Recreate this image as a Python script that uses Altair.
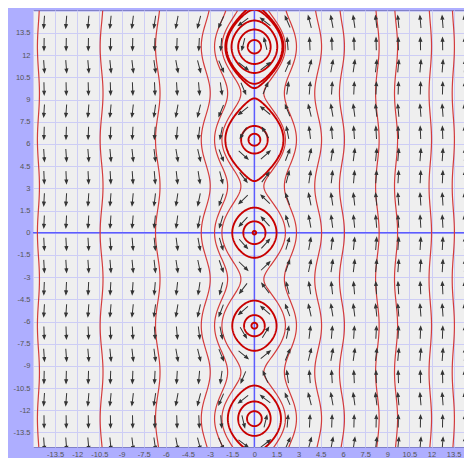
import numpy as np
import pandas as pd
import altair as alt

# ---- data ----
TICKS = [-15, -13.5, -12, -10.5, -9, -7.5, -6, -4.5, -3, -1.5, 0,
         1.5, 3, 4.5, 6, 7.5, 9, 10.5, 12, 13.5, 15]
ARROW_X = [-14.25, -12.75, -11.25, -9.75, -8.25, -6.75, -5.25, -3.75, -2.25, -0.75,
           0.75, 2.25, 3.75, 5.25, 6.75, 8.25, 9.75, 11.25, 12.75, 14.25]
ARROW_Y = list(ARROW_X)

# open trajectories: x where each crosses y = 0
OPEN_X0 = [-14.7, -10.45, -6.7, -3.6, -2.7, -2.2, 2.1, 2.85, 4.55, 6.1, 8.45, 9.7, 12.0, 13.55]
# closed orbits: centre (y) and x-amplitude through the centre
CENTERS = [0.0, 6.2832, -6.2832, 12.5664, -12.5664]
AMPS = [[0.12, 0.75, 1.5],
        [0.4, 0.9, 1.97],
        [0.2, 0.7, 1.5],
        [0.45, 1.1, 1.55, 1.9, 1.97],
        [0.5, 1.1, 1.8]]

X_DOMAIN = [-15, 14.2]
Y_DOMAIN = [-14.48, 15.05]


# system: x' = -sin(y), y' = x   (energy E = x^2/2 - cos y)
def field(x, y):
    return -np.sin(y), x


rows = []
cid = 0
ys = np.linspace(-15, 15, 601)
for x0 in OPEN_X0:
    E = x0 ** 2 / 2 - 1
    xs = np.sign(x0) * np.sqrt(np.maximum(0, 2 * (E + np.cos(ys))))
    for i, (a, b) in enumerate(zip(xs, ys)):
        rows.append({"cid": cid, "i": i, "x": a, "y": b, "w": 1.2, "c": "#d43c3c"})
    cid += 1
t = np.linspace(0, 2 * np.pi, 241)
for c, amps in zip(CENTERS, AMPS):
    for a0 in amps:
        E = a0 ** 2 / 2 - 1
        ym = np.arccos(-E)
        yy = ym * np.cos(t)
        xx = np.sign(np.sin(t)) * np.sqrt(np.maximum(0, 2 * (E + np.cos(yy))))
        for i, (a, b) in enumerate(zip(xx, yy + c)):
            rows.append({"cid": cid, "i": i, "x": a, "y": b, "w": 1.9, "c": "#c80000"})
        cid += 1
curves = pd.DataFrame(rows)

arr = []
for ax in ARROW_X:
    for ay in ARROW_Y:
        u, v = field(ax, ay)
        ang = np.degrees(np.arctan2(u, v)) % 360
        arr.append({"x": ax, "y": ay, "angle": float(ang)})
arrows = pd.DataFrame(arr)

xs_ = alt.Scale(domain=X_DOMAIN, nice=False, zero=False)
ys_ = alt.Scale(domain=Y_DOMAIN, nice=False, zero=False)

lab = "datum.value == 15 || datum.value == -15 ? '' : '' + datum.value"
common = dict(values=TICKS, labelExpr=lab, grid=True, domain=False, ticks=False,
              title=None, labelPadding=3, labelFontSize=7.5, labelFont="Liberation Sans",
              labelColor="#555555", gridColor="#cdcdf5", labelFlush=False,
              labelOverlap=False, labelBound=False)
XA = alt.Axis(**common)
YA = alt.Axis(**common)

base_axes = alt.Chart(pd.DataFrame({"v": [0]})).mark_rule(opacity=0).encode(
    x=alt.X("v:Q", scale=xs_, axis=XA), y=alt.Y("v:Q", scale=ys_, axis=YA))

zero = pd.DataFrame({"a": [-15], "b": [15], "z": [0]})
hline = alt.Chart(zero).mark_rule(color="#5c5cff", strokeWidth=1.5, clip=True).encode(
    x=alt.X("a:Q", scale=xs_, axis=XA), x2="b:Q", y=alt.Y("z:Q", scale=ys_, axis=YA))
vline = alt.Chart(zero).mark_rule(color="#5c5cff", strokeWidth=1.5, clip=True).encode(
    y=alt.Y("a:Q", scale=ys_, axis=YA), y2="b:Q", x=alt.X("z:Q", scale=xs_, axis=XA))

lines = alt.Chart(curves).mark_line(clip=True).encode(
    x=alt.X("x:Q", scale=xs_, axis=XA), y=alt.Y("y:Q", scale=ys_, axis=YA),
    detail="cid:N", order="i:Q",
    strokeWidth=alt.StrokeWidth("w:Q", scale=None),
    color=alt.Color("c:N", scale=None))

ARROW_PATH = "M0,1 L0,-0.5 M-0.22,-0.45 L0,-1 L0.22,-0.45 Z"
pts = alt.Chart(arrows).mark_point(shape=ARROW_PATH, filled=True, fill="#333333",
                                   stroke="#333333", strokeWidth=1.0, size=150, opacity=1,
                                   clip=True).encode(
    x=alt.X("x:Q", scale=xs_, axis=XA), y=alt.Y("y:Q", scale=ys_, axis=YA),
    angle=alt.Angle("angle:Q", scale=None))

chart = alt.layer(base_axes, hline, vline, lines, pts).properties(
    width=431, height=437,
    autosize=alt.AutoSizeParams(type="none"),
    padding={"left": 25, "top": 2, "right": 0, "bottom": 11},
    background="#aeaeff",
).configure_view(fill="#efefef", stroke="#8080c8", strokeWidth=1
).configure_axis(labelOverlap=False)

chart.save("out.html", embed_options={"renderer": "svg", "actions": False})
